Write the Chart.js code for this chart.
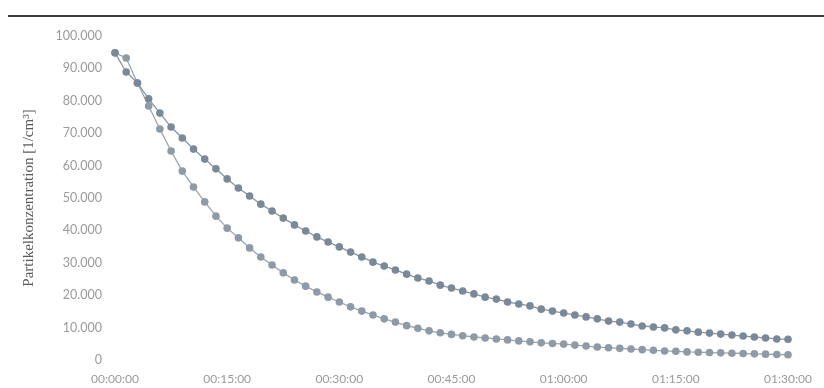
<!DOCTYPE html>
<html>
<head>
<meta charset="utf-8">
<script src="https://cdn.jsdelivr.net/npm/chart.js@4.4.0/dist/chart.umd.min.js"></script>
<style>
  html, body { margin: 0; padding: 0; background: #fff; }
  #wrap { width: 824px; height: 388px; position: relative; }
</style>
</head>
<body>
<div id="wrap"><canvas id="grafica" width="824" height="388"></canvas></div>
<script>
// Zeitpunkte (alle 1,5 Minuten)
const zeiten = [
  '00:00:00','00:01:30','00:03:00','00:04:30','00:06:00','00:07:30','00:09:00','00:10:30','00:12:00','00:13:30',
  '00:15:00','00:16:30','00:18:00','00:19:30','00:21:00','00:22:30','00:24:00','00:25:30','00:27:00','00:28:30',
  '00:30:00','00:31:30','00:33:00','00:34:30','00:36:00','00:37:30','00:39:00','00:40:30','00:42:00','00:43:30',
  '00:45:00','00:46:30','00:48:00','00:49:30','00:51:00','00:52:30','00:54:00','00:55:30','00:57:00','00:58:30',
  '01:00:00','01:01:30','01:03:00','01:04:30','01:06:00','01:07:30','01:09:00','01:10:30','01:12:00','01:13:30',
  '01:15:00','01:16:30','01:18:00','01:19:30','01:21:00','01:22:30','01:24:00','01:25:30','01:27:00','01:28:30',
  '01:30:00'
];

// Messreihe mit langsamer Abnahme
const reiheLangsam = [
  94800, 88900, 85500, 80600, 76200, 71900, 68500, 65100, 62000, 59000,
  55900, 53100, 50600, 48100, 46000, 43800, 41700, 39800, 38000, 36400,
  34900, 33300, 31800, 30200, 29000, 27800, 26500, 25300, 24400, 23100,
  22200, 21300, 20400, 19400, 18800, 17900, 17300, 16700, 15700, 15100,
  14500, 13900, 13300, 12700, 12000, 11700, 11100, 10500, 10200, 9900,
  9300, 9000, 8600, 8300, 8000, 7700, 7400, 7100, 6800, 6500,
  6400
];

// Messreihe mit schneller Abnahme
const reiheSchnell = [
  94800, 93200, 85500, 78400, 71300, 64500, 58300, 53400, 48800, 44400,
  40700, 37700, 34600, 31800, 29300, 26900, 24700, 22800, 21000, 19400,
  17900, 16400, 15100, 13900, 12700, 11700, 10600, 9800, 9000, 8400,
  7900, 7500, 7100, 6800, 6500, 6200, 5900, 5600, 5300, 5100,
  4900, 4600, 4300, 4000, 3800, 3600, 3400, 3200, 3000, 2800,
  2700, 2500, 2400, 2300, 2200, 2100, 2000, 1900, 1800, 1700,
  1600
];

const yTicks = [0, 10000, 20000, 30000, 40000, 50000, 60000, 70000, 80000, 90000, 100000];

// Zahl im deutschen Format (Tausenderpunkt)
function formatZahl(v) {
  return String(v).replace(/\B(?=(\d{3})+(?!\d))/g, '.');
}

// Linie oben (wie im Bericht)
const linieOben = {
  id: 'linieOben',
  beforeDraw(chart) {
    const ctx = chart.ctx;
    ctx.save();
    ctx.fillStyle = '#3a3a3a';
    ctx.fillRect(8, 15, 816, 2);
    ctx.restore();
  }
};

const ctx = document.getElementById('grafica').getContext('2d');

new Chart(ctx, {
  type: 'line',
  data: {
    labels: zeiten,
    datasets: [
      {
        label: 'Reihe 1',
        data: reiheLangsam,
        borderColor: '#8795a3',
        backgroundColor: '#7a8998',
        borderWidth: 1.3,
        pointRadius: 3.8,
        pointBorderWidth: 0,
        pointStyle: 'circle',
        tension: 0
      },
      {
        label: 'Reihe 2',
        data: reiheSchnell,
        borderColor: '#99a5b0',
        backgroundColor: '#8e9aa6',
        borderWidth: 1.3,
        pointRadius: 3.8,
        pointBorderWidth: 0,
        pointStyle: 'circle',
        tension: 0
      }
    ]
  },
  options: {
    responsive: false,
    animation: false,
    devicePixelRatio: 1,
    layout: { padding: { left: 0, right: 36, top: 36, bottom: 0 } },
    plugins: {
      legend: { display: false },
      tooltip: { enabled: false }
    },
    scales: {
      x: {
        type: 'category',
        offset: false,
        grid: { display: false, drawTicks: false },
        border: { display: false },
        ticks: {
          autoSkip: false,
          maxRotation: 0,
          padding: 12,
          color: '#9a9a9a',
          font: { family: 'Lato', size: 12 },
          callback: function (val, idx) {
            return idx % 10 === 0 ? zeiten[idx] : null;
          }
        },
        afterFit: function (s) { s.height = 28; }
      },
      y: {
        min: 0,
        max: 100000,
        grid: { display: false, drawTicks: false },
        border: { display: false },
        afterBuildTicks: function (s) { s.ticks = yTicks.map(v => ({ value: v })); },
        ticks: {
          padding: 13,
          color: '#9a9a9a',
          font: { family: 'Lato', size: 12.5 },
          callback: v => formatZahl(v)
        },
        title: {
          display: true,
          text: 'Partikelkonzentration [1/cm³]',
          color: '#5a5a5a',
          font: { family: 'Liberation Serif', size: 15 },
          padding: { top: 20, bottom: 0 }
        },
        afterFit: function (s) { s.width = 115; }
      }
    }
  },
  plugins: [linieOben]
});
</script>
</body>
</html>
